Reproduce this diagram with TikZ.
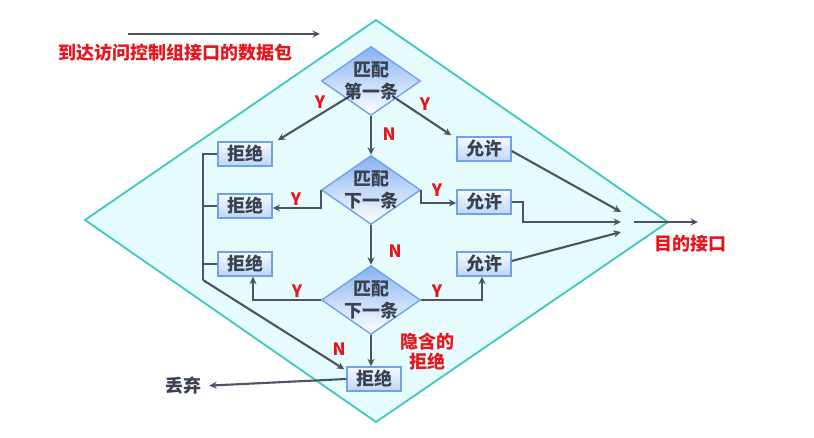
\documentclass[tikz,border=0pt]{standalone}
\usepackage{fontspec}
\newfontfamily\cjk{Noto Sans CJK SC}
\usetikzlibrary{shapes.geometric,arrows.meta,calc}
\definecolor{arrowc}{RGB}{74,84,100}
\definecolor{boxb}{RGB}{110,162,238}
\definecolor{boxt}{RGB}{246,250,255}
\definecolor{boxbot}{RGB}{190,214,248}
\definecolor{dtop}{RGB}{135,178,242}
\definecolor{txt}{RGB}{58,66,80}
\definecolor{red1}{RGB}{232,20,28}
\definecolor{bgc}{RGB}{230,251,251}
\definecolor{teal1}{RGB}{62,200,190}
\begin{document}
\begin{tikzpicture}[x=1pt,y=-1pt,
  arr/.style={draw=arrowc, line width=2.1pt, -{Stealth[length=7.5pt,width=7pt]}},
  ln/.style={draw=arrowc, line width=2.1pt},
  box/.style={rectangle, draw=boxb, line width=1.4pt, top color=boxt, bottom color=boxbot,
    minimum width=54pt, minimum height=24pt, inner sep=0pt,
    font=\cjk\bfseries\fontsize{18}{20}\selectfont, text=txt},
  dec/.style={diamond, draw=boxb, line width=1.4pt, top color=dtop, bottom color=white,
    minimum width=99pt, minimum height=69pt, inner sep=0pt},
  dtext/.style={align=center, inner sep=0pt, text=txt,
    font=\cjk\bfseries\fontsize{18}{22}\selectfont},
  yn/.style={text=red1, inner sep=0pt, font=\cjk\bfseries\fontsize{17}{19}\selectfont},
  redtxt/.style={text=red1, inner sep=0pt, align=center,
    font=\cjk\bfseries\fontsize{18}{20}\selectfont},
]
\useasboundingbox (0,0) rectangle (814,438);
\fill[white] (0,0) rectangle (814,438);
\filldraw[fill=bgc, draw=teal1, line width=1.8pt]
  (376,20) -- (668,222) -- (376,422) -- (85,220) -- cycle;

% decisions
\node[dec] (d1) at (371,81) {};
\node[dtext] (d1t) at (d1) {匹配\\第一条};
\node[dec] (d2) at (371,190) {};
\node[dtext] (d2t) at (d2) {匹配\\下一条};
\node[dec] (d3) at (371,300) {};
\node[dtext] (d3t) at (d3) {匹配\\下一条};

% boxes
\node[box] (r1) at (245,154) {拒绝};
\node[box] (r2) at (245,206) {拒绝};
\node[box] (r3) at (245,264) {拒绝};
\node[box] (r4) at (374,379) {拒绝};
\node[box] (a1) at (484,149) {允许};
\node[box] (a2) at (484,202) {允许};
\node[box] (a3) at (484,264) {允许};

% texts
\node[redtxt] (title) at (175,53) {到达访问控制组接口的数据包};
\node[redtxt] (dest) at (690,244) {目的接口};
\node[redtxt] (implicit) at (427,352) {隐含的\\拒绝};
\node[dtext] (drop) at (183,386) {丢弃};

\coordinate (in1) at (128,34);
\coordinate (in2) at (320,34);
\coordinate (t1) at (621,212);
\coordinate (t2) at (621,222);
\coordinate (t3) at (621,232);
\coordinate (o1) at (634,222);
\coordinate (o2) at (698,222);
\coordinate (rail) at (203,280);

% connectors
\draw[arr] (in1) -- (in2);
\draw[arr] (d1.south west) -- ([xshift=5pt,yshift=1pt]r1.north east);
\draw[arr] (d1.south east) -- ([xshift=-5pt,yshift=1pt]a1.north west);
\draw[arr] (d1.south) -- (d2.north);
\draw[arr] (d2.west) |- ([yshift=-2pt]r2.east);
\draw[arr] (d2.east) |- ([yshift=-1pt]a2.west);
\draw[arr] (d2.south) -- (d3.north);
\draw[arr] (d3.west) -| ([xshift=8pt]r3.south);
\draw[arr] (d3.east) -| ([xshift=-2pt]a3.south);
\draw[arr] (d3.south) -- (d3.south |- r4.north);
\draw[arr] ([yshift=-2pt]a1.east) -- (t1);
\draw[arr] (a2.east) -- ++(11,0) |- (t2);
\draw[arr] ([yshift=3pt]a3.east) -- (t3);
\draw[arr] (o1) -- (o2);
\draw[ln] (r1.west) -| (rail);
\draw[ln] (r2.west) -- (r2.west -| rail);
\draw[ln] (r3.west) -- (r3.west -| rail);
\draw[arr] (rail) -- ([xshift=-2pt,yshift=-3pt]r4.north west);
\draw[arr, shorten >=8pt] (r4.west) -- (drop.east);

% Y / N labels
\node[yn] (y1) at (320,102) {Y};
\node[yn] (y2) at (425,104) {Y};
\node[yn] (n1) at (389,134) {N};
\node[yn] (y3) at (296,199) {Y};
\node[yn] (y4) at (437,190) {Y};
\node[yn] (n2) at (395,251) {N};
\node[yn] (y5) at (297,291) {Y};
\node[yn] (y6) at (437,291) {Y};
\node[yn] (n3) at (339,349) {N};
\end{tikzpicture}
\end{document}
